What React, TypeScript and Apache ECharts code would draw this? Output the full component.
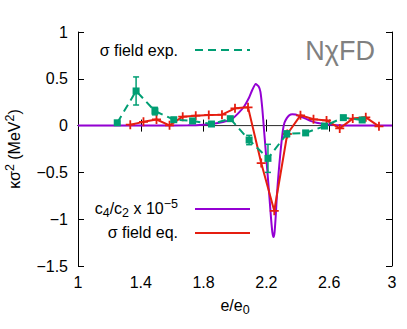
import React, { useEffect, useRef } from "react";
import * as echarts from "echarts";

const xTicks = [1, 1.4, 1.8, 2.2, 2.6, 3];

const purpleX = [1.0, 1.5, 1.7, 1.8, 1.86, 1.9, 1.94, 1.98, 2.02, 2.06, 2.09, 2.11, 2.132, 2.15, 2.162, 2.174, 2.185, 2.2, 2.21, 2.22, 2.23, 2.238, 2.245, 2.252, 2.26, 2.267, 2.277, 2.287, 2.296, 2.305, 2.315, 2.33, 2.345, 2.365, 2.385, 2.41, 2.445, 2.48, 2.52, 2.58, 2.65, 2.75, 3.0];
const purpleY = [0, 0, 0.003, 0.01, 0.02, 0.03, 0.045, 0.07, 0.13, 0.21, 0.3, 0.38, 0.444, 0.42, 0.36, 0.18, -0.05, -0.36, -0.57, -0.78, -1.0, -1.14, -1.19, -1.14, -0.95, -0.74, -0.52, -0.33, -0.18, -0.05, 0.03, 0.08, 0.11, 0.12, 0.118, 0.1, 0.078, 0.05, 0.03, 0.015, 0.005, 0, 0];

const redX = [1.333, 1.417, 1.5, 1.583, 1.667, 1.75, 1.833, 1.917, 2.0, 2.083, 2.167, 2.25, 2.333, 2.417, 2.5, 2.583, 2.667, 2.75, 2.833, 2.917];
const redY = [0.01, 0.04, 0.065, 0.003, 0.095, 0.106, 0.113, 0.117, 0.185, 0.195, -0.4, -0.91, -0.09, 0.11, 0.067, 0.055, -0.03, 0.075, 0.088, -0.008];

const greenX = [1.25, 1.37, 1.49, 1.61, 1.73, 1.85, 1.97, 2.09, 2.21, 2.33, 2.45, 2.57, 2.69, 2.81];
const greenY = [0.03, 0.37, 0.155, 0.063, 0.05, 0.017, 0.074, -0.154, -0.35, -0.088, -0.078, -0.005, 0.085, 0.06];
const greenErr = [0.01, 0.15, 0.04, 0.02, 0.02, 0.02, 0.02, 0.05, 0.15, 0.03, 0.02, 0.02, 0.02, 0.02];

const PURPLE = "#9400d3";
const RED = "#e51e10";
const GREEN = "#009e73";
const FONT = "Liberation Sans, Arial, sans-serif";
const PLUS = "path://M4,0H6V4H10V6H6V10H4V6H0V4H4Z";

const richSS = {
  sup: { fontSize: 12.5, lineHeight: 12, verticalAlign: "top", fontFamily: FONT, color: "#000" },
  sub: { fontSize: 12.5, lineHeight: 12, verticalAlign: "bottom", fontFamily: FONT, color: "#000" },
};

export default function App() {
  const ref = useRef<HTMLDivElement>(null);
  useEffect(() => {
    const chart = echarts.init(ref.current!, null, { renderer: "svg" });
    const axisCommon = {
      type: "value",
      axisLine: { show: true, lineStyle: { color: "#000", width: 1 } },
      splitLine: { show: false },
    };
    const errData = greenX.map((x, i) => [x, greenY[i] - greenErr[i], greenY[i] + greenErr[i]]);
    const option: any = {
      animation: false,
      backgroundColor: "#fff",
      textStyle: { fontFamily: FONT },
      grid: { left: 78, right: 15, top: 32, bottom: 63, containLabel: false, outerBoundsMode: "none" },
      xAxis: [
        {
          ...axisCommon,
          position: "bottom",
          min: 1,
          max: 3,
          axisTick: { inside: true, length: 6, customValues: xTicks, lineStyle: { color: "#000" } },
          axisLabel: { customValues: xTicks, fontSize: 16, color: "#000", margin: 8, fontFamily: FONT },
          name: "e/e{sub|0}",
          nameLocation: "middle",
          nameGap: 18,
          nameTextStyle: { fontSize: 16, color: "#000", fontFamily: FONT, lineHeight: 22, rich: richSS },
        },
        {
          ...axisCommon,
          position: "top",
          min: 1,
          max: 3,
          axisTick: { inside: true, length: 6, customValues: xTicks, lineStyle: { color: "#000" } },
          axisLabel: { show: false, customValues: xTicks },
        },
      ],
      yAxis: [
        {
          ...axisCommon,
          position: "left",
          min: -1.5,
          max: 1,
          interval: 0.5,
          axisTick: { inside: true, length: 6, lineStyle: { color: "#000" } },
          axisLabel: {
            fontSize: 16,
            color: "#000",
            margin: 10,
            fontFamily: FONT,
            formatter: (v: number) => String(v).replace("-", "\u2212"),
          },
          name: "\u03ba\u03c3{sup|2} (MeV{sup|2})",
          nameLocation: "middle",
          nameGap: 52,
          nameRotate: 90,
          nameTextStyle: { fontSize: 16, color: "#000", fontFamily: FONT, lineHeight: 22, rich: richSS },
        },
        {
          ...axisCommon,
          position: "right",
          min: -1.5,
          max: 1,
          interval: 0.5,
          axisTick: { inside: true, length: 6, lineStyle: { color: "#000" } },
          axisLabel: { show: false },
        },
      ],
      series: [
        {
          name: "zero",
          type: "line",
          data: [[1, 0], [3, 0]],
          symbol: "none",
          lineStyle: { color: "#444", width: 1 },
          z: 1,
          silent: true,
        },
        {
          name: "c4/c2 x 10^-5",
          type: "line",
          data: purpleX.map((x, i) => [x, purpleY[i]]),
          symbol: "none",
          smooth: 0.2,
          lineStyle: { color: PURPLE, width: 2 },
          z: 2,
        },
        {
          name: "\u03c3 field eq.",
          type: "line",
          data: redX.map((x, i) => [x, redY[i]]),
          symbol: PLUS,
          symbolSize: 9,
          itemStyle: { color: RED },
          lineStyle: { color: RED, width: 2 },
          z: 3,
        },
        {
          name: "err",
          type: "custom",
          data: errData,
          encode: { x: 0, y: [1, 2] },
          z: 4,
          renderItem: (params: any, api: any) => {
            const x = api.value(0);
            const a = api.coord([x, api.value(1)]);
            const b = api.coord([x, api.value(2)]);
            const w = 3;
            const st = () => ({ stroke: GREEN, lineWidth: 1.5 });
            return {
              type: "group",
              children: [
                { type: "line", shape: { x1: a[0], y1: a[1], x2: b[0], y2: b[1] }, style: st() },
                { type: "line", shape: { x1: a[0] - w, y1: a[1], x2: a[0] + w, y2: a[1] }, style: st() },
                { type: "line", shape: { x1: b[0] - w, y1: b[1], x2: b[0] + w, y2: b[1] }, style: st() },
              ],
            };
          },
        },
        {
          name: "\u03c3 field exp.",
          type: "line",
          data: greenX.map((x, i) => [x, greenY[i]]),
          symbol: "rect",
          symbolSize: 7,
          itemStyle: { color: GREEN },
          lineStyle: { color: GREEN, width: 2, type: [8, 5] },
          z: 5,
        },
      ],
      graphic: [
        {
          type: "text",
          x: 178,
          y: 50,
          style: { text: "\u03c3 field exp.", fontSize: 16, fontFamily: FONT, fill: "#000", align: "right", verticalAlign: "middle" },
        },
        {
          type: "line",
          shape: { x1: 195, y1: 50, x2: 250, y2: 50 },
          style: { stroke: GREEN, lineWidth: 2, lineDash: [8, 5] },
        },
        {
          type: "text",
          x: 178,
          y: 208,
          style: {
            text: "c{sub|4}/c{sub|2} x 10{sup|\u22125}",
            fontSize: 16,
            fontFamily: FONT,
            fill: "#000",
            align: "right",
            verticalAlign: "middle",
            lineHeight: 22,
            rich: {
              sup: { fontSize: 12.5, lineHeight: 12, verticalAlign: "top", fontFamily: FONT, fill: "#000" },
              sub: { fontSize: 12.5, lineHeight: 12, verticalAlign: "bottom", fontFamily: FONT, fill: "#000" },
            },
          },
        },
        {
          type: "line",
          shape: { x1: 195, y1: 209, x2: 250, y2: 209 },
          style: { stroke: PURPLE, lineWidth: 2 },
        },
        {
          type: "text",
          x: 178,
          y: 232,
          style: { text: "\u03c3 field eq.", fontSize: 16, fontFamily: FONT, fill: "#000", align: "right", verticalAlign: "middle" },
        },
        {
          type: "line",
          shape: { x1: 195, y1: 233, x2: 250, y2: 233 },
          style: { stroke: RED, lineWidth: 2 },
        },
        {
          type: "text",
          x: 375,
          y: 51,
          style: { text: "N\u03c7FD", fontSize: 27, fontFamily: FONT, fill: "#808080", align: "right", verticalAlign: "middle" },
        },
      ],
    };
    chart.setOption(option);
    return () => chart.dispose();
  }, []);
  return <div ref={ref} style={{ position: "fixed", left: 0, top: 0, width: 407, height: 329 }} />;
}
